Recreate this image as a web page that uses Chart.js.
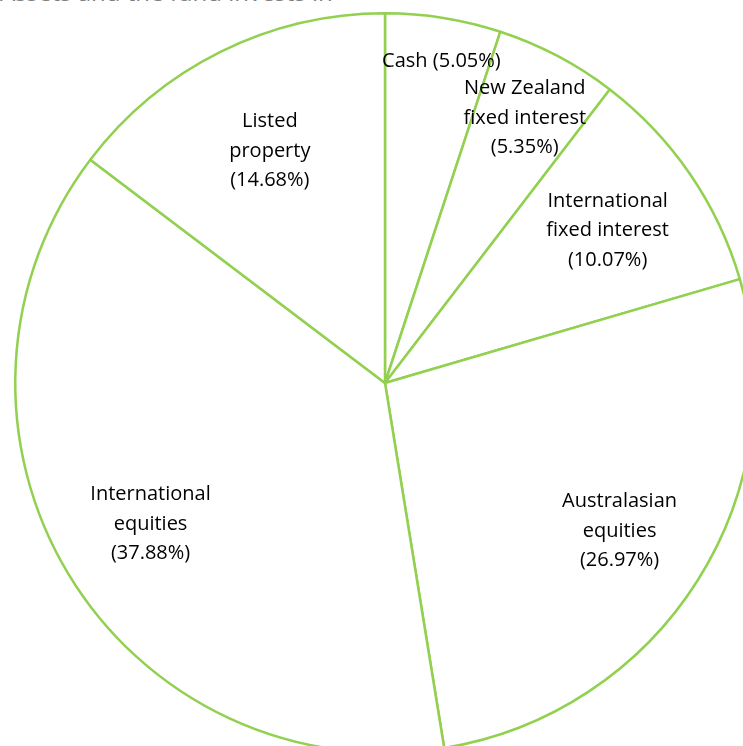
<!DOCTYPE html>
<html>
<head>
<meta charset="utf-8">
<script src="https://cdn.jsdelivr.net/npm/chart.js@4/dist/chart.umd.min.js"></script>
<style>
  html, body { margin: 0; padding: 0; width: 743px; height: 746px; overflow: hidden; background: #fff; }
  #title { position: absolute; left: 0; top: -22px; font-family: 'Open Sans', sans-serif; font-size: 24px; line-height: 28px; color: #7f7f7f; white-space: nowrap; }
  #wrap { position: absolute; left: 0; top: 0; width: 770px; height: 766px; }
</style>
</head>
<body>
<div id="title">Assets and the fund invests in</div>
<div id="wrap"><canvas id="pie"></canvas></div>
<script>
// asset mix, clockwise from 12 o'clock
const categories = [
  ['Cash'],
  ['New Zealand', 'fixed interest'],
  ['International', 'fixed interest'],
  ['Australasian', 'equities'],
  ['International', 'equities'],
  ['Listed', 'property']
];
const shares = [5.05, 5.35, 10.07, 26.97, 37.88, 14.68];

// how far out each label sits (fraction of radius)
const labelDist = [0.88, 0.81, 0.73, 0.75, 0.74, 0.70];

const GREEN = '#92d050';

const pieLabels = {
  id: 'pieLabels',
  afterDatasetsDraw(chart) {
    const ctx = chart.ctx;
    const arcs = chart.getDatasetMeta(0).data;
    ctx.save();
    ctx.font = '20px "Open Sans", sans-serif';
    ctx.fillStyle = '#000';
    ctx.textAlign = 'center';
    ctx.textBaseline = 'middle';
    arcs.forEach((a, i) => {
      const mid = (a.startAngle + a.endAngle) / 2;
      const r = a.outerRadius * labelDist[i];
      const x = a.x + Math.cos(mid) * r + (i === 0 ? 5 : 0);
      const y = a.y + Math.sin(mid) * r;
      const pct = '(' + shares[i].toFixed(2) + '%)';
      let lines = categories[i].length === 1 ? [categories[i][0] + ' ' + pct] : categories[i].concat([pct]);
      const lh = 29.5;
      const y0 = y - (lines.length - 1) * lh / 2;
      lines.forEach((t, j) => ctx.fillText(t, x, y0 + j * lh));
    });
    ctx.restore();
  }
};

new Chart(document.getElementById('pie').getContext('2d'), {
  type: 'pie',
  data: {
    labels: categories.map(c => c.join(' ')),
    datasets: [{
      data: shares,
      backgroundColor: '#ffffff',
      borderColor: GREEN,
      borderWidth: 2.5,
      borderAlign: 'center'
    }]
  },
  options: {
    responsive: true,
    maintainAspectRatio: false,
    animation: false,
    layout: { padding: { left: 14, right: 14, top: 12, bottom: 12 } },
    plugins: { legend: { display: false }, tooltip: { enabled: false } }
  },
  plugins: [pieLabels]
});
</script>
</body>
</html>
